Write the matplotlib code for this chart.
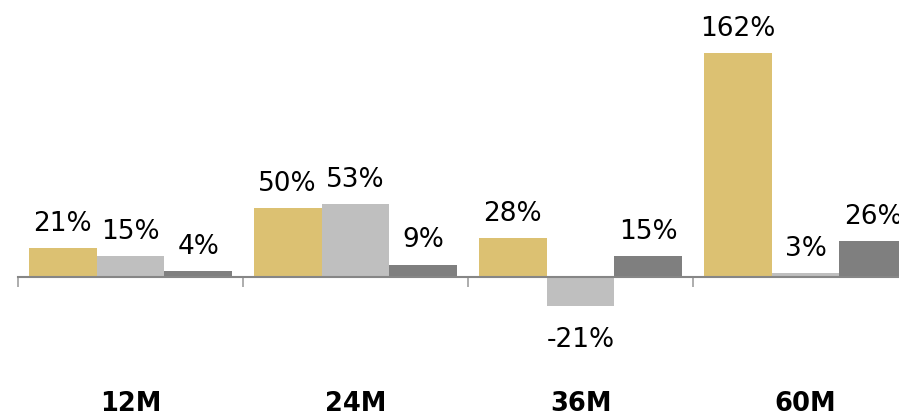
import matplotlib
matplotlib.use("Agg")
import matplotlib.pyplot as plt
import numpy as np

periods = ["12M", "24M", "36M", "60M"]
series_a = [21, 50, 28, 162]   # gold
series_b = [15, 53, -21, 3]    # light gray
series_c = [4, 9, 15, 26]      # dark gray
colors = ["#DCC172", "#BFBFBF", "#7F7F7F"]

fig = plt.figure(figsize=(8.99, 4.17), dpi=100)
# axes runs past the right edge, like the original crop
ax = fig.add_axes([18 / 899, 0, 900 / 899, 1])

x = np.arange(len(periods))
w = 0.302
for k, (vals, col) in enumerate(zip([series_a, series_b, series_c], colors)):
    xs = x + (k - 1) * w
    ax.bar(xs, vals, width=w, color=col, zorder=2)
    for xi, v in zip(xs, vals):
        if v >= 0:
            ax.annotate(f"{v}%", (xi, v), xytext=(0, 8), textcoords="offset points",
                        ha="center", va="bottom", fontsize=19)
        else:
            ax.annotate(f"{v}%", (xi, v), xytext=(0, -15), textcoords="offset points",
                        ha="center", va="top", fontsize=19)

for xi, lab in zip(x, periods):
    ax.text(xi, 0.031, lab, transform=ax.get_xaxis_transform(), ha="center", va="center",
            fontsize=18.5, fontweight="bold")

ax.set_xlim(-0.5, 3.5)
ax.set_ylim(-140 / 1.383, 277 / 1.383)
for s in ["top", "left", "right"]:
    ax.spines[s].set_visible(False)
ax.spines["bottom"].set_position(("data", 0))
ax.spines["bottom"].set_color("#868686")
ax.spines["bottom"].set_linewidth(1.5)
ax.spines["bottom"].set_zorder(3)
ax.set_xticks(np.arange(-0.5, 4, 1))
ax.tick_params(axis="x", length=7, width=1.2, color="#a0a0a0", labelbottom=False)
ax.set_yticks([])
ax.patch.set_alpha(0)

fig.savefig("out.png", dpi=100)
